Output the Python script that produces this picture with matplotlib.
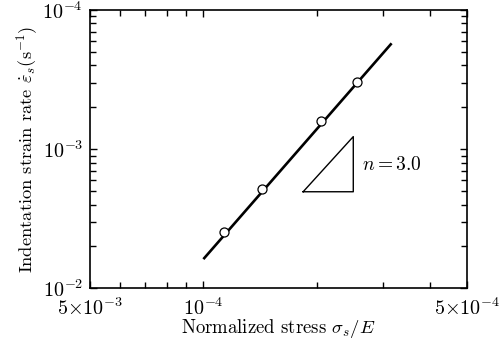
import numpy as np
import matplotlib
matplotlib.use('Agg')
import matplotlib.pyplot as plt
from matplotlib.ticker import FixedLocator, FixedFormatter, NullFormatter

plt.rcParams['font.family'] = 'cmr10'
plt.rcParams['mathtext.fontset'] = 'cm'
plt.rcParams['axes.formatter.use_mathtext'] = True

# fitted power law line (end points) and measured points
fit_x = [1.0e-4, 3.16e-4]
fit_y = [1.62e-6, 5.76e-5]
pts_x = [1.134e-4, 1.427e-4, 2.05e-4, 2.565e-4]
pts_y = [2.54e-6, 5.15e-6, 1.60e-5, 3.05e-5]

# slope triangle
tri_x = [1.84e-4, 2.5e-4, 2.5e-4, 1.84e-4]
tri_y = [4.94e-6, 4.94e-6, 1.23e-5, 4.94e-6]

xticks = [5e-5, 1e-4, 5e-4]
xticklabels = [r'$5{\times}10^{-3}$', r'$10^{-4}$', r'$5{\times}10^{-4}$']
yticks = [1e-6, 1e-5, 1e-4]
yticklabels = [r'$10^{-2}$', r'$10^{-3}$', r'$10^{-4}$']

fig = plt.figure(figsize=(5.01, 3.48), dpi=100)
ax = fig.add_axes([0.1796, 0.1716, 0.7519, 0.7997])

ax.plot(fit_x, fit_y, color='black', lw=1.9, solid_capstyle='butt')
ax.plot(pts_x, pts_y, 'o', ms=6.5, mfc='white', mec='black', mew=0.9)
ax.plot(tri_x, tri_y, color='black', lw=1.0)
ax.text(2.63e-4, 7.7e-6, r'$n=3.0$', fontsize=14, va='center', ha='left')

ax.set_xscale('log')
ax.set_yscale('log')
ax.set_xlim(5e-5, 5e-4)
ax.set_ylim(1e-6, 1e-4)

ax.xaxis.set_major_locator(FixedLocator(xticks))
ax.xaxis.set_major_formatter(FixedFormatter(xticklabels))
ax.xaxis.set_minor_locator(FixedLocator([6e-5, 7e-5, 8e-5, 9e-5, 2e-4, 3e-4, 4e-4]))
ax.xaxis.set_minor_formatter(NullFormatter())
ax.yaxis.set_major_locator(FixedLocator(yticks))
ax.yaxis.set_major_formatter(FixedFormatter(yticklabels))
ax.yaxis.set_minor_locator(FixedLocator([k * 10.0 ** e for e in (-6, -5) for k in range(2, 10)]))
ax.yaxis.set_minor_formatter(NullFormatter())

ax.tick_params(which='both', direction='in', top=True, right=True, labelsize=14.5, width=1.0, pad=5)
ax.tick_params(axis='x', which='both', pad=6.5)
ax.tick_params(which='major', length=5)
ax.tick_params(which='minor', length=4)
for s in ax.spines.values():
    s.set_linewidth(1.2)

ax.set_xlabel(r'Normalized stress $\sigma_s/E$', fontsize=13.5, labelpad=-1)
ax.set_ylabel(r'Indentation strain rate $\dot{\varepsilon}_s$(s$^{-1}$)', fontsize=13.3, labelpad=2)

fig.savefig('out.png', dpi=100)
